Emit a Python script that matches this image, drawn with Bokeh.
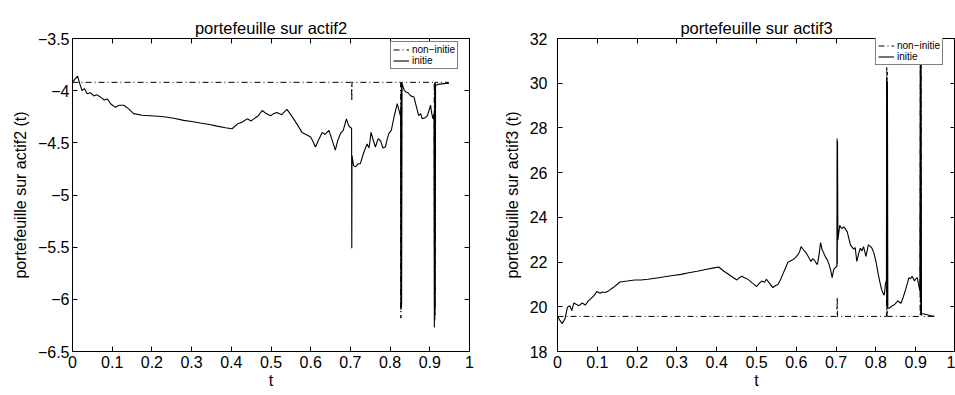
from bokeh.plotting import figure
from bokeh.layouts import row
from bokeh.models import (FixedTicker, CustomJSTickFormatter, LinearAxis, Legend,
                          LegendItem, Range1d)
from bokeh.embed import file_html
from bokeh.resources import INLINE

FONT = "Liberation Sans"

# ---------------- data: portefeuille sur actif2 ----------------
t_init2 = [0.000, 0.006, 0.013, 0.018, 0.024, 0.030, 0.037, 0.045, 0.054, 0.062,
           0.070, 0.080, 0.088, 0.096, 0.108, 0.118, 0.129, 0.140, 0.154, 0.175,
           0.196, 0.215, 0.230, 0.255, 0.280, 0.300, 0.322, 0.345, 0.364, 0.385,
           0.402, 0.415, 0.428, 0.440, 0.450, 0.457, 0.468, 0.478, 0.488, 0.499,
           0.507, 0.515, 0.527, 0.540, 0.548, 0.557, 0.567, 0.578, 0.588, 0.600,
           0.606, 0.612, 0.620, 0.629, 0.636, 0.646, 0.652, 0.662, 0.668, 0.675,
           0.682, 0.690, 0.695, 0.699, 0.7030, 0.7035, 0.7040, 0.708, 0.713, 0.720,
           0.725, 0.733, 0.742, 0.747, 0.752, 0.758, 0.763, 0.770, 0.776, 0.782,
           0.788, 0.793, 0.797, 0.803, 0.810, 0.818, 0.824, 0.8265, 0.8270, 0.8275,
           0.8280, 0.8285, 0.8290, 0.8300, 0.835, 0.839, 0.845, 0.852, 0.860, 0.866,
           0.872, 0.877, 0.881, 0.888, 0.894, 0.898, 0.902, 0.905, 0.908, 0.9105,
           0.9115, 0.9120, 0.9125, 0.9130, 0.9135, 0.9145, 0.920, 0.930, 0.940, 0.948]
v_init2 = [-3.92, -3.89, -3.86, -3.93, -4.00, -3.98, -4.03, -4.02, -4.05, -4.04,
           -4.06, -4.09, -4.08, -4.125, -4.16, -4.14, -4.14, -4.17, -4.22, -4.235,
           -4.24, -4.245, -4.25, -4.265, -4.285, -4.295, -4.31, -4.325, -4.34, -4.355,
           -4.365, -4.32, -4.30, -4.27, -4.29, -4.27, -4.24, -4.19, -4.22, -4.24,
           -4.22, -4.21, -4.23, -4.18, -4.22, -4.27, -4.33, -4.40, -4.42, -4.445,
           -4.49, -4.54, -4.47, -4.40, -4.42, -4.38, -4.45, -4.57, -4.48, -4.41,
           -4.38, -4.27, -4.33, -4.35, -4.36, -5.51, -4.62, -4.72, -4.73, -4.70,
           -4.70, -4.60, -4.51, -4.55, -4.40, -4.48, -4.54, -4.46, -4.48, -4.55,
           -4.54, -4.46, -4.41, -4.38, -4.25, -4.125, -4.21, -4.25, -6.10, -4.10,
           -6.08, -3.95, -6.05, -3.93, -3.99, -4.01, -4.02, -4.05, -4.06, -4.15,
           -4.24, -4.22, -4.27, -4.26, -4.24, -4.19, -4.14, -4.22, -4.27, -4.22,
           -6.27, -4.20, -6.20, -3.98, -6.10, -3.95, -3.94, -3.935, -3.93, -3.93]

t_non2 = [0.000, 0.7030, 0.7035, 0.7040, 0.8265, 0.8272, 0.8280, 0.8285, 0.8292,
          0.9110, 0.9118, 0.9125, 0.9130, 0.9140, 0.948]
v_non2 = [-3.92, -3.92, -4.10, -3.92, -3.92, -6.18, -3.92, -6.10, -3.92,
          -3.92, -6.20, -3.92, -6.15, -3.92, -3.92]

# ---------------- data: portefeuille sur actif3 ----------------
t_init3 = [0.000, 0.006, 0.012, 0.019, 0.025, 0.031, 0.036, 0.041, 0.048, 0.054,
           0.062, 0.070, 0.077, 0.083, 0.091, 0.099, 0.107, 0.113, 0.120, 0.128,
           0.140, 0.157, 0.175, 0.194, 0.210, 0.227, 0.250, 0.269, 0.290, 0.310,
           0.330, 0.351, 0.372, 0.393, 0.405, 0.418, 0.426, 0.434, 0.442, 0.451,
           0.457, 0.463, 0.470, 0.475, 0.482, 0.488, 0.494, 0.500, 0.507, 0.513,
           0.520, 0.525, 0.533, 0.541, 0.548, 0.554, 0.560, 0.566, 0.572, 0.579,
           0.585, 0.591, 0.598, 0.604, 0.608, 0.612, 0.618, 0.624, 0.630, 0.637,
           0.641, 0.645, 0.650, 0.653, 0.657, 0.661, 0.665, 0.669, 0.674, 0.678,
           0.682, 0.686, 0.690, 0.694, 0.700, 0.7020, 0.7025, 0.7030, 0.7035, 0.7045,
           0.709, 0.714, 0.720, 0.728, 0.736, 0.744, 0.748, 0.752, 0.757, 0.761,
           0.765, 0.769, 0.775, 0.781, 0.786, 0.790, 0.795, 0.800, 0.806, 0.810,
           0.814, 0.818, 0.821, 0.824, 0.8265, 0.8270, 0.8275, 0.8280, 0.8285, 0.8290,
           0.8300, 0.834, 0.838, 0.842, 0.848, 0.855, 0.859, 0.863, 0.869, 0.875,
           0.879, 0.883, 0.887, 0.891, 0.897, 0.900, 0.904, 0.908, 0.9105, 0.9115,
           0.9120, 0.9125, 0.9130, 0.9135, 0.9145, 0.920, 0.929, 0.938, 0.947]
v_init3 = [19.60, 19.39, 19.25, 19.47, 19.98, 20.05, 19.83, 20.17, 20.10, 20.05,
           20.17, 20.08, 20.25, 20.35, 20.49, 20.68, 20.61, 20.66, 20.64, 20.71,
           20.86, 21.11, 21.15, 21.20, 21.20, 21.23, 21.29, 21.34, 21.40, 21.45,
           21.52, 21.59, 21.67, 21.74, 21.78, 21.59, 21.50, 21.40, 21.30, 21.20,
           21.30, 21.37, 21.30, 21.26, 21.18, 21.08, 21.00, 20.90, 21.05, 21.15,
           21.10, 21.23, 21.05, 20.86, 20.95, 21.00, 21.20, 21.45, 21.70, 21.99,
           22.05, 22.10, 22.20, 22.33, 22.45, 22.69, 22.55, 22.43, 22.25, 22.03,
           22.15, 22.10, 21.95, 21.89, 22.30, 22.87, 22.55, 22.40, 22.20, 22.10,
           21.90, 21.67, 21.30, 21.67, 21.78, 21.80, 27.53, 21.90, 27.40, 22.98,
           23.64, 23.50, 23.57, 23.35, 22.77, 22.58, 22.65, 22.03, 22.40, 22.62,
           22.50, 22.69, 22.25, 22.77, 22.70, 22.62, 22.40, 22.03, 21.45, 21.10,
           20.79, 20.60, 20.52, 21.00, 21.20, 30.20, 20.30, 30.10, 20.00, 30.00,
           19.95, 19.94, 20.00, 20.05, 20.12, 20.27, 20.20, 20.16, 20.45, 20.79,
           21.05, 21.30, 21.25, 21.37, 21.15, 21.25, 21.30, 20.93, 20.70, 31.00,
           20.20, 31.00, 19.90, 31.00, 19.70, 19.68, 19.64, 19.60, 19.57]

t_non3 = [0.000, 0.7020, 0.7028, 0.7035, 0.8265, 0.8272, 0.8280, 0.8285, 0.8292,
          0.9110, 0.9118, 0.9125, 0.9130, 0.9140, 0.947]
v_non3 = [19.57, 19.57, 20.42, 19.57, 19.57, 30.70, 19.57, 30.50, 19.57,
          19.57, 31.00, 19.57, 30.80, 19.57, 19.57]

x_ticks = [0, 0.1, 0.2, 0.3, 0.4, 0.5, 0.6, 0.7, 0.8, 0.9, 1]
y_ticks2 = [-6.5, -6, -5.5, -5, -4.5, -4, -3.5]
y_ticks3 = [18, 20, 22, 24, 26, 28, 30, 32]

legend_labels = ["non\u2212initie", "initie"]

FMT = "return String(tick).replace('-', '\\u2212');"
BLANK = "return '';"


def make_fig(title, ylabel, t_non, v_non, t_init, v_init, y_lo, y_hi, y_ticks,
             width, border_left, border_right, border_top, border_bottom,
             ylab_standoff, legend_loc):
    p = figure(width=width, height=395, output_backend="svg", toolbar_location=None,
               x_range=Range1d(0, 1), y_range=Range1d(y_lo, y_hi),
               min_border_left=border_left, min_border_right=border_right,
               min_border_top=border_top, min_border_bottom=border_bottom)
    p.background_fill_color = "white"
    p.border_fill_color = "white"
    p.outline_line_color = "black"
    p.outline_line_alpha = 1.0
    p.outline_line_width = 1
    p.xgrid.visible = False
    p.ygrid.visible = False

    p.title.text = title
    p.title.align = "center"
    p.title.text_font = FONT
    p.title.text_font_size = "16.5px"
    p.title.text_font_style = "normal"
    p.title.text_color = "black"
    p.title.standoff = 4

    xt = FixedTicker(ticks=x_ticks, minor_ticks=[])
    yt = FixedTicker(ticks=y_ticks, minor_ticks=[])
    for ax, tk in ((p.xaxis[0], xt), (p.yaxis[0], yt)):
        ax.ticker = tk
        ax.formatter = CustomJSTickFormatter(code=FMT)
        ax.major_tick_in = 5
        ax.major_tick_out = 0
        ax.minor_tick_in = 0
        ax.minor_tick_out = 0
        ax.axis_line_color = "black"
        ax.major_tick_line_color = "black"
        ax.major_label_text_font = FONT
        ax.major_label_text_font_size = "16px"
        ax.major_label_text_color = "black"
        ax.axis_label_text_font = FONT
        ax.axis_label_text_font_size = "16px"
        ax.axis_label_text_font_style = "normal"
        ax.axis_label_text_color = "black"
    p.xaxis[0].axis_label = "t"
    p.xaxis[0].major_label_standoff = 4
    p.xaxis[0].axis_label_standoff = 1
    p.yaxis[0].axis_label = ylabel
    p.yaxis[0].major_label_standoff = ylab_standoff
    p.yaxis[0].axis_label_standoff = 6

    top = LinearAxis(ticker=FixedTicker(ticks=x_ticks, minor_ticks=[]),
                     formatter=CustomJSTickFormatter(code=BLANK),
                     major_label_text_color=None, major_label_standoff=0,
                     major_tick_in=5, major_tick_out=0, axis_line_color="black")
    right = LinearAxis(ticker=FixedTicker(ticks=y_ticks, minor_ticks=[]),
                       formatter=CustomJSTickFormatter(code=BLANK),
                       major_label_text_color=None, major_label_standoff=0,
                       major_tick_in=5, major_tick_out=0, axis_line_color="black")
    p.add_layout(top, "above")
    p.add_layout(right, "right")

    r_non = p.line(t_non, v_non, line_color="black", line_width=1,
                   line_dash="6 3 1 3")
    r_init = p.line(t_init, v_init, line_color="black", line_width=1.1)

    leg = Legend(items=[LegendItem(label=legend_labels[0], renderers=[r_non]),
                        LegendItem(label=legend_labels[1], renderers=[r_init])],
                 location=legend_loc)
    leg.label_text_font = FONT
    leg.label_text_font_size = "10px"
    leg.label_text_color = "black"
    leg.label_height = 9
    leg.glyph_height = 9
    leg.glyph_width = 16
    leg.label_standoff = 3
    leg.spacing = 0
    leg.padding = 2
    leg.margin = 0
    leg.border_line_color = "black"
    leg.border_line_width = 1
    leg.background_fill_color = "white"
    leg.background_fill_alpha = 1.0
    p.add_layout(leg)
    return p


p1 = make_fig("portefeuille sur actif2", "portefeuille sur actif2 (t)",
              t_non2, v_non2, t_init2, v_init2, -6.5, -3.5, y_ticks2,
              500, 72, 31, 38, 44, 3, (318, 282))
p2 = make_fig("portefeuille sur actif3", "portefeuille sur actif3 (t)",
              t_non3, v_non3, t_init3, v_init3, 18, 32, y_ticks3,
              455, 55, 0, 35, 42, 10, (318, 286))

layout = row(p1, p2)
open("out.html", "w", encoding="utf-8").write(file_html(layout, INLINE))
